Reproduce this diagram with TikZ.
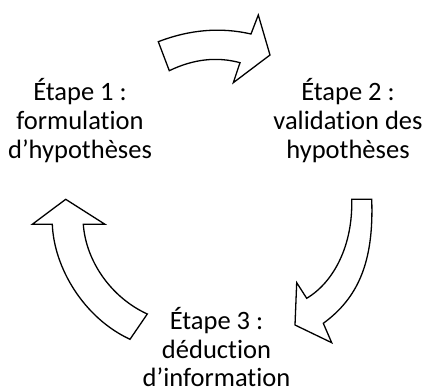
\documentclass[tikz,border=0pt]{standalone}
\usepackage{fontspec}
\setmainfont{Carlito}[Ligatures=NoCommon]
\tikzset{
  steplabel/.style={align=center, anchor=base, inner sep=0pt, font=\fontsize{26.5}{28.7}\selectfont},
  cyclearrow/.style={draw=black, fill=white, line width=1.3pt, line join=miter}
}
\begin{document}
\begin{tikzpicture}[x=1pt, y=-1pt]
  \useasboundingbox (0,0) rectangle (426,390);

  % Step labels
  \node[steplabel] (s1) at (80,158.4) {Étape 1 :\\formulation\\d’hypothèses};
  \node[steplabel] (s2) at (348,158.1) {Étape 2 :\\validation des\\hypothèses};
  \node[steplabel] (s3) at (216.5,386.7) {Étape 3 :\\déduction\\d’information};

  % Arrow from step 1 to step 2
  \draw[cyclearrow] (158.3,41.7) .. controls (189.7,29.6) and (220.6,27.0) .. (251,34)
    -- (258.3,15) -- (270,55) -- (233.3,82.7) -- (240,62.7)
    .. controls (216.9,56.4) and (193.3,59.1) .. (169.3,70.7) -- cycle;

  % Arrow from step 2 to step 3
  \draw[cyclearrow] (351.7,199.3) -- (371.7,199.3)
    .. controls (374,262) and (358,298) .. (323.3,323.3)
    -- (331.7,342.7) -- (295,325) -- (296.7,282.7) -- (306.7,298.3)
    .. controls (334,282) and (353,245) .. (351.7,199.3) -- cycle;

  % Arrow from step 3 to step 1
  \draw[cyclearrow] (65.7,199.3) -- (105,224.3) -- (83.3,224.3)
    .. controls (86,262) and (112,298) .. (147.3,314)
    -- (130,339.3) .. controls (84,318) and (54,268) .. (52.3,224.3)
    -- (32.3,224.3) -- cycle;
\end{tikzpicture}
\end{document}
